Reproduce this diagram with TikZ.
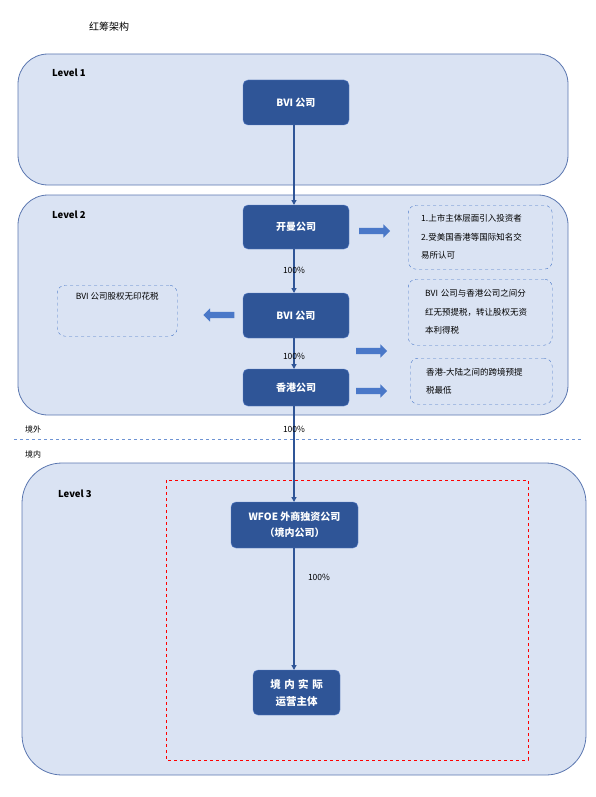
\documentclass[tikz,border=0pt]{standalone}
\usepackage{fontspec}
\setmainfont{Noto Sans CJK SC}
\usepackage{xcolor}
\usetikzlibrary{positioning,arrows.meta,shapes.arrows}

\definecolor{panelfill}{HTML}{DAE3F3}
\definecolor{panelline}{HTML}{5B77B0}
\definecolor{boxfill}{HTML}{2F5597}
\definecolor{boxline}{HTML}{5B80C8}
\definecolor{linkcol}{HTML}{2F5597}
\definecolor{notecol}{HTML}{4A78C8}

\begin{document}
\begin{tikzpicture}[x=1pt, y=-1pt, font=\fontsize{7.5}{9}\selectfont,
		panel/.style={draw=panelline, thick, fill=panelfill, rounded corners=30pt},
		firm/.style={draw=boxline, fill=boxfill, rounded corners=5pt, text=white, font=\fontsize{10}{12}\selectfont\bfseries, align=center, minimum width=106pt},
		note/.style={draw=notecol, dashed, rounded corners=8pt, align=left, font=\fontsize{8.5}{18.5}\selectfont, inner ysep=6pt},
		lvl/.style={font=\fontsize{9.5}{10}\selectfont\bfseries, anchor=west, inner sep=0pt},
		link/.style={draw=linkcol, line width=1.6pt, -{Triangle[length=5pt,width=5pt]}},
		pct/.style={font=\fontsize{8.5}{9}\selectfont, inner sep=1pt},
		fatarrow/.style={single arrow, draw=none, fill=notecol, minimum height=31pt, minimum width=13pt, single arrow head extend=3.5pt, inner xsep=0pt, inner ysep=3pt, single arrow head indent=0pt}]
	\useasboundingbox (0,0) rectangle (596,797);
	\node[font=\fontsize{10}{11}\selectfont] (title) at (109,27) {红筹架构};

	% levels
	\draw[panel] (18,54) rectangle (568,185);
	\draw[panel] (18,195) rectangle (568,415);
	\draw[panel, rounded corners=40pt] (22,463) rectangle (586,775);
	\node[lvl] (lv1) at (52,73) {Level 1};
	\node[lvl] (lv2) at (52,215) {Level 2};
	\node[lvl] (lv3) at (58,494) {Level 3};

	% border line
	\draw[notecol!80, dashed] (14,439) -- (582,439);
	\node[anchor=west, inner sep=0pt, font=\fontsize{8}{9}\selectfont] (outside) at (25,429) {境外};
	\node[anchor=west, inner sep=0pt, font=\fontsize{8}{9}\selectfont] (inside) at (25,454) {境内};
	\draw[red, dashed, thick] (166,480) rectangle (528,760);

	% companies
	\node[firm, minimum height=45pt] (bvitop) at (296,102.5) {BVI 公司};
	\node[firm, minimum height=44pt] (cayman) at (296,227) {开曼公司};
	\node[firm, minimum height=45pt] (bvimid) at (296,315.5) {BVI 公司};
	\node[firm, minimum height=37pt] (hk) at (296,387.5) {香港公司};
	\node[firm, minimum height=46pt, minimum width=127pt, font=\fontsize{10}{16}\selectfont\bfseries] (wfoe) at (294.5,525) {WFOE 外商独资公司\\（境内公司）};
	\node[firm, minimum height=45pt, minimum width=87pt, font=\fontsize{10.5}{17}\selectfont\bfseries] (ops) at (296.5,692.5) {境\,\,内\,\,实\,\,际\\运营主体};

	% ownership links
	\draw[link] (294,125) -- (294,205);
	\draw[link] (294,249) -- (294,293) node[pct, pos=0.48] (p1) {100\%};
	\draw[link] (294,338) -- (294,369) node[pct, pos=0.6] (p2) {100\%};
	\draw[link] (294,406) -- (294,502) node[pct, pos=0.24] (p3) {100\%};
	\draw[link] (294,548) -- (294,670);
	\node[pct] (p4) at (319,577) {100\%};

	% notes
	\node[note, text width=118pt, inner xsep=13pt, minimum height=64pt, anchor=north west] (listing) at (408,205) {1.上市主体层面引入投资者\\2.受美国香港等国际知名交\\易所认可};
	\node[note, text width=110pt, inner xsep=17pt, minimum height=66pt, anchor=north west] (divnote) at (408,279) {BVI 公司与香港公司之间分\\红无预提税，转让股权无资\\本利得税};
	\node[note, text width=110pt, inner xsep=16pt, minimum height=46pt, anchor=north west] (taxnote) at (410,358) {香港-大陆之间的跨境预提\\税最低};
	\node[note, minimum width=120pt, minimum height=51pt, anchor=north west, align=center] (stampnote) at (57,285) {BVI 公司股权无印花税\\[12pt]};

	% block arrows
	\node[fatarrow] (a1) at (373,231) {};
	\node[fatarrow, shape border rotate=180] (a2) at (220.5,315) {};
	\node[fatarrow] (a3) at (370,351) {};
	\node[fatarrow] (a4) at (370,391) {};
\end{tikzpicture}
\end{document}
